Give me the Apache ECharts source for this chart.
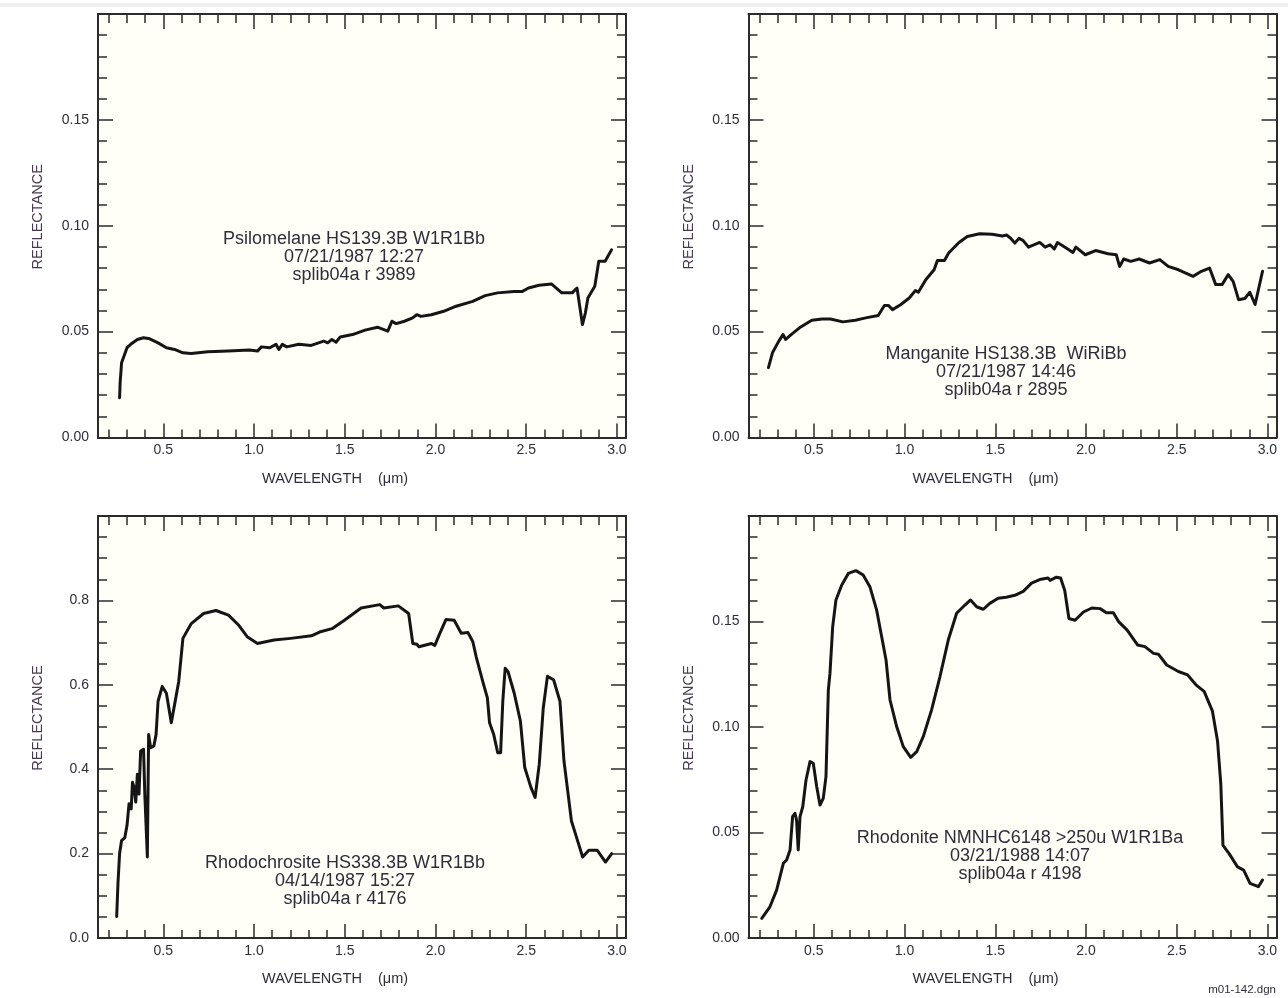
<!DOCTYPE html>
<html>
<head>
<meta charset="utf-8">
<title>Reflectance spectra - splib04a</title>
<script src="https://cdn.jsdelivr.net/npm/echarts@6/dist/echarts.min.js"></script>
<style>
  html, body { margin: 0; padding: 0; background: #fff; }
  #chart { width: 1288px; height: 998px; }
</style>
</head>
<body>
<div id="chart"></div>
<script>
// tick positions, wavelength in µm
const xMinorTicks = [0.2, 0.3, 0.4, 0.5, 0.6, 0.7, 0.8, 0.9, 1.0, 1.1, 1.2, 1.3, 1.4, 1.5, 1.6, 1.7, 1.8, 1.9, 2.0, 2.1, 2.2, 2.3, 2.4, 2.5, 2.6, 2.7, 2.8, 2.9, 3.0];
const xMajorTicks = [0.5, 1.0, 1.5, 2.0, 2.5, 3.0];

// reflectance ticks, 0 - 0.2 panels
const yMinorSmall = [0.01, 0.02, 0.03, 0.04, 0.05, 0.06, 0.07, 0.08, 0.09, 0.10, 0.11, 0.12, 0.13, 0.14, 0.15, 0.16, 0.17, 0.18, 0.19];
const yMajorSmall = [0.05, 0.10, 0.15];
const yLabelsSmall = [0.00, 0.05, 0.10, 0.15];

// reflectance ticks, 0 - 1.0 panel
const yMinorLarge = [0.05, 0.10, 0.15, 0.20, 0.25, 0.30, 0.35, 0.40, 0.45, 0.50, 0.55, 0.60, 0.65, 0.70, 0.75, 0.80, 0.85, 0.90, 0.95];
const yMajorLarge = [0.2, 0.4, 0.6, 0.8];
const yLabelsLarge = [0.0, 0.2, 0.4, 0.6, 0.8];

// spectra: [wavelength, reflectance]
const psilomelane = [
  [0.259, 0.0188], [0.262, 0.0259], [0.270, 0.0353], [0.300, 0.0424], [0.320, 0.0440],
  [0.357, 0.0463], [0.391, 0.0471], [0.425, 0.0466], [0.471, 0.0447], [0.517, 0.0424],
  [0.562, 0.0416], [0.608, 0.0400], [0.653, 0.0397], [0.745, 0.0405], [0.859, 0.0408],
  [0.973, 0.0413], [1.019, 0.0408], [1.041, 0.0428], [1.087, 0.0424], [1.121, 0.0440],
  [1.137, 0.0416], [1.156, 0.0440], [1.180, 0.0428], [1.247, 0.0440], [1.315, 0.0435],
  [1.384, 0.0455], [1.406, 0.0447], [1.429, 0.0463], [1.452, 0.0450], [1.475, 0.0475],
  [1.543, 0.0486], [1.612, 0.0507], [1.680, 0.0521], [1.737, 0.0502], [1.760, 0.0549],
  [1.783, 0.0538], [1.829, 0.0549], [1.874, 0.0565], [1.897, 0.0580], [1.920, 0.0572],
  [1.977, 0.0580], [2.045, 0.0596], [2.114, 0.0620], [2.205, 0.0643], [2.274, 0.0670],
  [2.342, 0.0683], [2.433, 0.0690], [2.479, 0.0690], [2.513, 0.0706], [2.570, 0.0719],
  [2.639, 0.0725], [2.696, 0.0683], [2.753, 0.0683], [2.780, 0.0706], [2.810, 0.0533],
  [2.826, 0.0588], [2.840, 0.0659], [2.878, 0.0714], [2.900, 0.0832], [2.935, 0.0832],
  [2.970, 0.0886]
];

const manganite = [
  [0.250, 0.0330], [0.272, 0.0400], [0.307, 0.0455], [0.330, 0.0486], [0.345, 0.0463],
  [0.375, 0.0486], [0.421, 0.0518], [0.489, 0.0554], [0.546, 0.0560], [0.592, 0.0560],
  [0.660, 0.0546], [0.729, 0.0554], [0.786, 0.0565], [0.855, 0.0576], [0.889, 0.0623],
  [0.912, 0.0623], [0.934, 0.0604], [0.980, 0.0628], [1.026, 0.0659], [1.060, 0.0694],
  [1.076, 0.0686], [1.117, 0.0745], [1.163, 0.0792], [1.181, 0.0836], [1.220, 0.0836],
  [1.243, 0.0871], [1.300, 0.0921], [1.346, 0.0949], [1.414, 0.0962], [1.482, 0.0960],
  [1.540, 0.0952], [1.562, 0.0956], [1.585, 0.0941], [1.608, 0.0918], [1.631, 0.0941],
  [1.654, 0.0930], [1.683, 0.0899], [1.745, 0.0921], [1.775, 0.0899], [1.802, 0.0910],
  [1.825, 0.0890], [1.843, 0.0921], [1.893, 0.0894], [1.928, 0.0874], [1.944, 0.0899],
  [1.996, 0.0863], [2.053, 0.0883], [2.122, 0.0868], [2.167, 0.0863], [2.185, 0.0808],
  [2.208, 0.0843], [2.247, 0.0832], [2.293, 0.0843], [2.350, 0.0824], [2.407, 0.0840],
  [2.453, 0.0808], [2.510, 0.0792], [2.590, 0.0761], [2.636, 0.0785], [2.681, 0.0800],
  [2.715, 0.0722], [2.750, 0.0722], [2.784, 0.0769], [2.811, 0.0737], [2.841, 0.0651],
  [2.875, 0.0656], [2.903, 0.0686], [2.932, 0.0628], [2.943, 0.0632], [2.973, 0.0785]
];

const rhodochrosite = [
  [0.243, 0.051], [0.250, 0.129], [0.259, 0.200], [0.270, 0.231], [0.288, 0.238],
  [0.300, 0.267], [0.311, 0.318], [0.323, 0.306], [0.330, 0.369], [0.339, 0.357],
  [0.348, 0.322], [0.357, 0.388], [0.366, 0.341], [0.375, 0.443], [0.391, 0.447],
  [0.398, 0.341], [0.412, 0.192], [0.419, 0.482], [0.430, 0.451], [0.448, 0.455],
  [0.460, 0.482], [0.471, 0.561], [0.494, 0.596], [0.517, 0.580], [0.544, 0.510],
  [0.562, 0.553], [0.585, 0.608], [0.608, 0.710], [0.654, 0.745], [0.722, 0.769],
  [0.790, 0.776], [0.859, 0.765], [0.916, 0.741], [0.962, 0.714], [1.019, 0.698],
  [1.110, 0.706], [1.202, 0.710], [1.316, 0.716], [1.361, 0.725], [1.430, 0.733],
  [1.498, 0.753], [1.590, 0.782], [1.693, 0.790], [1.715, 0.782], [1.795, 0.787],
  [1.852, 0.769], [1.875, 0.698], [1.898, 0.696], [1.909, 0.690], [1.978, 0.698],
  [1.996, 0.693], [2.024, 0.722], [2.058, 0.755], [2.103, 0.753], [2.142, 0.722],
  [2.179, 0.724], [2.206, 0.702], [2.224, 0.667], [2.263, 0.604], [2.286, 0.569],
  [2.298, 0.510], [2.321, 0.482], [2.343, 0.439], [2.359, 0.439], [2.371, 0.561],
  [2.384, 0.639], [2.400, 0.631], [2.434, 0.580], [2.468, 0.514], [2.492, 0.404],
  [2.526, 0.357], [2.549, 0.333], [2.572, 0.412], [2.594, 0.545], [2.617, 0.620],
  [2.651, 0.612], [2.686, 0.561], [2.708, 0.420], [2.731, 0.341], [2.749, 0.278],
  [2.777, 0.239], [2.811, 0.192], [2.845, 0.208], [2.891, 0.208], [2.937, 0.180],
  [2.971, 0.200]
];

const rhodonite = [
  [0.213, 0.0093], [0.258, 0.0148], [0.295, 0.0227], [0.332, 0.0354], [0.350, 0.0370],
  [0.369, 0.0417], [0.383, 0.0575], [0.396, 0.0591], [0.405, 0.0559], [0.414, 0.0417],
  [0.424, 0.0575], [0.439, 0.0622], [0.457, 0.0749], [0.479, 0.0836], [0.497, 0.0828],
  [0.516, 0.0717], [0.534, 0.0630], [0.552, 0.0662], [0.567, 0.0765], [0.580, 0.1175],
  [0.589, 0.1254], [0.604, 0.1476], [0.622, 0.1602], [0.654, 0.1673], [0.690, 0.1728],
  [0.732, 0.1741], [0.772, 0.1720], [0.809, 0.1665], [0.846, 0.1555], [0.874, 0.1428],
  [0.898, 0.1318], [0.920, 0.1128], [0.957, 0.1001], [0.993, 0.0907], [1.034, 0.0856],
  [1.067, 0.0883], [1.103, 0.0954], [1.149, 0.1081], [1.195, 0.1238], [1.241, 0.1412],
  [1.287, 0.1539], [1.333, 0.1578], [1.364, 0.1602], [1.397, 0.1570], [1.434, 0.1558],
  [1.470, 0.1586], [1.516, 0.1610], [1.560, 0.1615], [1.608, 0.1624], [1.654, 0.1643],
  [1.700, 0.1682], [1.745, 0.1699], [1.791, 0.1706], [1.802, 0.1695], [1.837, 0.1710],
  [1.860, 0.1706], [1.883, 0.1647], [1.906, 0.1514], [1.940, 0.1506], [1.986, 0.1545],
  [2.032, 0.1564], [2.078, 0.1561], [2.112, 0.1542], [2.151, 0.1542], [2.181, 0.1498],
  [2.227, 0.1459], [2.284, 0.1389], [2.325, 0.1381], [2.372, 0.1349], [2.399, 0.1345],
  [2.445, 0.1294], [2.509, 0.1263], [2.560, 0.1247], [2.606, 0.1200], [2.651, 0.1169],
  [2.697, 0.1075], [2.725, 0.0934], [2.743, 0.0730], [2.755, 0.0439], [2.789, 0.0400],
  [2.835, 0.0337], [2.869, 0.0322], [2.904, 0.0259], [2.950, 0.0243], [2.973, 0.0275]
];

const X_MIN = 0.14;
const X_MAX = 3.05;
const frameColor = '#2b2b2b';
const textColor = '#2e2e3a';
const fontFamily = '"Liberation Sans", Arial, sans-serif';

const panels = [
  { left: 98, top: 14, height: 423.5, yMax: 0.2, yMinor: yMinorSmall, yMajor: yMajorSmall, yLabels: yLabelsSmall, digits: 2,
    data: psilomelane, text: 'Psilomelane HS139.3B W1R1Bb\n07/21/1987 12:27\nsplib04a r 3989', tx: 354, ty: 257.5 },
  { left: 748.5, top: 14, height: 423.5, yMax: 0.2, yMinor: yMinorSmall, yMajor: yMajorSmall, yLabels: yLabelsSmall, digits: 2,
    data: manganite, text: 'Manganite HS138.3B  WiRiBb\n07/21/1987 14:46\nsplib04a r 2895', tx: 1006, ty: 372 },
  { left: 98, top: 516, height: 422, yMax: 1.0, yMinor: yMinorLarge, yMajor: yMajorLarge, yLabels: yLabelsLarge, digits: 1,
    data: rhodochrosite, text: 'Rhodochrosite HS338.3B W1R1Bb\n04/14/1987 15:27\nsplib04a r 4176', tx: 345, ty: 881 },
  { left: 748.5, top: 516, height: 422, yMax: 0.2, yMinor: yMinorSmall, yMajor: yMajorSmall, yLabels: yLabelsSmall, digits: 2,
    data: rhodonite, text: 'Rhodonite NMNHC6148 >250u W1R1Ba\n03/21/1988 14:07\nsplib04a r 4198', tx: 1020, ty: 856 }
];

const tickStyle = { color: frameColor, width: 1.5 };
const lineStyle = { color: frameColor, width: 2 };

function makeXAxes(gi) {
  const base = { type: 'value', gridIndex: gi, min: X_MIN, max: X_MAX, splitLine: { show: false } };
  return [
    Object.assign({}, base, {
      position: 'bottom',
      axisLine: { show: true, onZero: false, lineStyle: lineStyle },
      axisTick: { show: true, inside: true, length: 8, customValues: xMinorTicks, lineStyle: tickStyle },
      axisLabel: { show: true, customValues: xMajorTicks, formatter: v => v.toFixed(1), margin: 6,
        color: textColor, fontSize: 14, fontFamily: fontFamily }
    }),
    Object.assign({}, base, {
      position: 'bottom',
      axisLine: { show: false, onZero: false },
      axisTick: { show: true, inside: true, length: 14, customValues: xMajorTicks, lineStyle: tickStyle },
      axisLabel: { show: false }
    }),
    Object.assign({}, base, {
      position: 'top',
      axisLine: { show: true, onZero: false, lineStyle: lineStyle },
      axisTick: { show: true, inside: true, length: 9, customValues: xMinorTicks, lineStyle: tickStyle },
      axisLabel: { show: false }
    }),
    Object.assign({}, base, {
      position: 'top',
      axisLine: { show: false, onZero: false },
      axisTick: { show: true, inside: true, length: 15, customValues: xMajorTicks, lineStyle: tickStyle },
      axisLabel: { show: false }
    })
  ];
}

function makeYAxes(gi, p) {
  const base = { type: 'value', gridIndex: gi, min: 0, max: p.yMax, splitLine: { show: false } };
  return [
    Object.assign({}, base, {
      position: 'left',
      axisLine: { show: true, onZero: false, lineStyle: lineStyle },
      axisTick: { show: true, inside: true, length: 9, customValues: p.yMinor, lineStyle: tickStyle },
      axisLabel: { show: true, customValues: p.yLabels, formatter: v => v.toFixed(p.digits), margin: 9,
        color: textColor, fontSize: 14, fontFamily: fontFamily }
    }),
    Object.assign({}, base, {
      position: 'left',
      axisLine: { show: false, onZero: false },
      axisTick: { show: true, inside: true, length: 15, customValues: p.yMajor, lineStyle: tickStyle },
      axisLabel: { show: false }
    }),
    Object.assign({}, base, {
      position: 'right',
      axisLine: { show: true, onZero: false, lineStyle: lineStyle },
      axisTick: { show: true, inside: true, length: 9, customValues: p.yMinor, lineStyle: tickStyle },
      axisLabel: { show: false }
    }),
    Object.assign({}, base, {
      position: 'right',
      axisLine: { show: false, onZero: false },
      axisTick: { show: true, inside: true, length: 15, customValues: p.yMajor, lineStyle: tickStyle },
      axisLabel: { show: false }
    })
  ];
}

const grids = [];
const xAxes = [];
const yAxes = [];
const series = [];
const graphics = [
  // faint strip along the top of the page
  { type: 'rect', shape: { x: 0, y: 3, width: 1288, height: 4 }, style: { fill: '#efefef' }, silent: true }
];

panels.forEach(function (p, i) {
  grids.push({ left: p.left, top: p.top, width: 528, height: p.height, show: true,
    backgroundColor: '#fffef7', borderWidth: 0 });
  xAxes.push.apply(xAxes, makeXAxes(i));
  yAxes.push.apply(yAxes, makeYAxes(i, p));
  series.push({
    type: 'line', xAxisIndex: i * 4, yAxisIndex: i * 4, data: p.data,
    showSymbol: false, symbol: 'none', smooth: false, animation: false,
    lineStyle: { color: '#151515', width: 3, join: 'round', cap: 'round' }
  });
  // sample annotation
  graphics.push({ type: 'text', x: p.tx, y: p.ty, silent: true,
    style: { text: p.text, align: 'center', verticalAlign: 'middle', lineHeight: 18,
      fontSize: 18, fontFamily: fontFamily, fill: textColor } });
  // axis titles
  graphics.push({ type: 'text', x: p.left - 60, y: p.top + p.height / 2 - 9, rotation: Math.PI / 2, silent: true,
    style: { text: 'REFLECTANCE', align: 'center', verticalAlign: 'middle',
      fontSize: 14.5, fontFamily: fontFamily, fill: '#47394f' } });
  graphics.push({ type: 'text', x: p.left + 164, y: p.top + p.height + 41, silent: true,
    style: { text: 'WAVELENGTH    (\u03bcm)', align: 'left', verticalAlign: 'middle',
      fontSize: 14.5, fontFamily: fontFamily, fill: textColor } });
});

graphics.push({ type: 'text', x: 1276, y: 990, silent: true,
  style: { text: 'm01-142.dgn', align: 'right', verticalAlign: 'middle',
    fontSize: 11.5, fontFamily: fontFamily, fill: textColor } });

const chart = echarts.init(document.getElementById('chart'), null, { renderer: 'canvas' });
chart.setOption({
  backgroundColor: '#ffffff',
  animation: false,
  grid: grids,
  xAxis: xAxes,
  yAxis: yAxes,
  series: series,
  graphic: graphics
});
</script>
</body>
</html>
